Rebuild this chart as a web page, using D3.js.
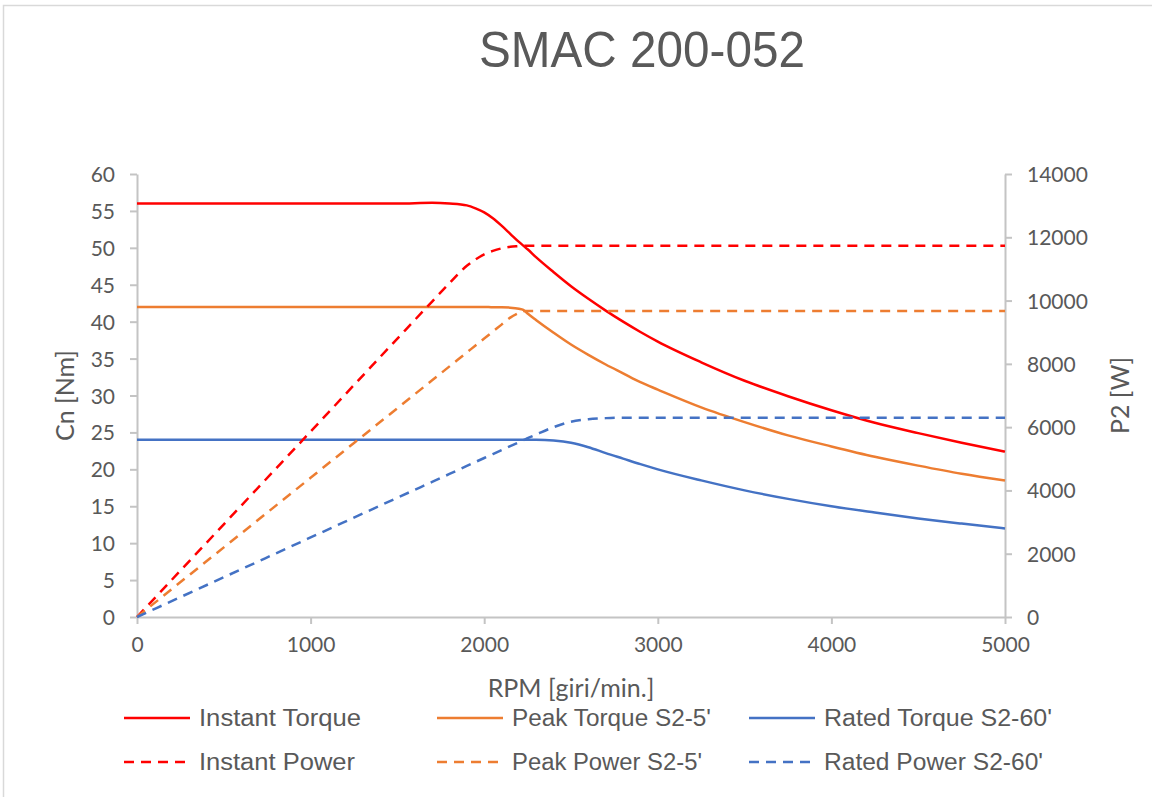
<!DOCTYPE html>
<html>
<head>
<meta charset="utf-8">
<script src="https://cdn.jsdelivr.net/npm/d3@7"></script>
<style>
	body { margin: 0; background: #fff; }
	.axis text { font-family: Lato, 'Open Sans', sans-serif; font-size: 21px; fill: #595959; }
	.axis path, .axis line { stroke: #c4c4c4; stroke-width: 2; }
	.axis-title { font-family: Lato, 'Open Sans', sans-serif; font-size: 25px; fill: #595959; }
	.legend text { font-family: 'Liberation Sans Narrow', 'Liberation Sans', sans-serif; font-size: 23px; fill: #595959; }
</style>
</head>
<body>
<div id="graphic"></div>
<script>
// rpm sample points shared by every curve
var RPM = [0, 500, 1000, 1500, 1700, 1800, 1900, 1950, 2000, 2050, 2100, 2150, 2200, 2225, 2250, 2300, 2400, 2500, 2600, 2700, 2800, 2900, 3000, 3250, 3500, 3750, 4000, 4250, 4500, 4750, 5000];

// torque [Nm], left axis
var INSTANT_TORQUE = [56, 56, 56, 56, 56.1, 56.0, 55.75, 55.35, 54.8, 54.0, 53.0, 51.9, 50.8, 50.3, 49.8, 48.7, 46.7, 44.8, 43.1, 41.5, 40.0, 38.6, 37.3, 34.5, 32.0, 29.9, 28.0, 26.3, 24.9, 23.6, 22.4];
var PEAK_TORQUE = [42, 42, 42, 42, 42, 42, 42, 42, 42, 41.95, 41.95, 41.9, 41.75, 41.6, 41.1, 40.2, 38.5, 36.9, 35.5, 34.2, 33.0, 31.8, 30.8, 28.4, 26.4, 24.6, 23.1, 21.7, 20.5, 19.4, 18.5];
var RATED_TORQUE = [24, 24, 24, 24, 24, 24, 24, 24, 24, 24, 24, 24, 24, 24, 24, 24, 23.9, 23.6, 23.0, 22.2, 21.45, 20.7, 20.0, 18.5, 17.15, 16.0, 15.0, 14.15, 13.35, 12.65, 12.0];

// power [W], right axis
var INSTANT_POWER = [0, 2930, 5860, 8800, 9970, 10550, 11100, 11300, 11460, 11570, 11650, 11700, 11720, 11730, 11730, 11730, 11730, 11730, 11730, 11730, 11730, 11730, 11730, 11730, 11730, 11730, 11730, 11730, 11730, 11730, 11730];
var PEAK_POWER = [0, 2200, 4400, 6600, 7480, 7920, 8360, 8580, 8800, 9020, 9240, 9460, 9610, 9670, 9670, 9670, 9670, 9670, 9670, 9670, 9670, 9670, 9670, 9670, 9670, 9670, 9670, 9670, 9670, 9670, 9670];
var RATED_POWER = [0, 1257, 2513, 3770, 4270, 4520, 4775, 4900, 5025, 5150, 5275, 5400, 5525, 5590, 5650, 5770, 6000, 6170, 6250, 6285, 6300, 6300, 6300, 6300, 6300, 6300, 6300, 6300, 6300, 6300, 6300];

var X_TICKS = [0, 1000, 2000, 3000, 4000, 5000];
var Y_TICKS = [0, 5, 10, 15, 20, 25, 30, 35, 40, 45, 50, 55, 60];
var Y2_TICKS = [0, 2000, 4000, 6000, 8000, 10000, 12000, 14000];

var SERIES = [
	{ name: 'Instant Torque', values: INSTANT_TORQUE, axis: 'left', color: '#ff0000', dashed: false, col: 0, row: 0, w: 162 },
	{ name: 'Peak Torque S2-5\'', values: PEAK_TORQUE, axis: 'left', color: '#ed7d31', dashed: false, col: 1, row: 0, w: 199 },
	{ name: 'Rated Torque S2-60\'', values: RATED_TORQUE, axis: 'left', color: '#4472c4', dashed: false, col: 2, row: 0, w: 228 },
	{ name: 'Instant Power', values: INSTANT_POWER, axis: 'right', color: '#ff0000', dashed: true, col: 0, row: 1, w: 156 },
	{ name: 'Peak Power S2-5\'', values: PEAK_POWER, axis: 'right', color: '#ed7d31', dashed: true, col: 1, row: 1, w: 190 },
	{ name: 'Rated Power S2-60\'', values: RATED_POWER, axis: 'right', color: '#4472c4', dashed: true, col: 2, row: 1, w: 219 }
];

function render() {
	var width = 1152;
	var height = 797;
	var margins = { top: 174, right: 147, bottom: 180, left: 137 };
	var chartWidth = width - margins.left - margins.right;
	var chartHeight = height - margins.top - margins.bottom;

	var svg = d3.select('#graphic').append('svg')
		.attr('width', width)
		.attr('height', height);

	// outer frame
	svg.append('rect')
		.attr('x', 3.5).attr('y', 5.5)
		.attr('width', 1160).attr('height', 820)
		.attr('fill', 'none')
		.attr('stroke', '#d9d9d9')
		.attr('stroke-width', 1.5);

	svg.append('text')
		.attr('x', 642)
		.attr('y', 67)
		.attr('text-anchor', 'middle')
		.attr('textLength', 326)
		.attr('lengthAdjust', 'spacingAndGlyphs')
		.style('font-family', "'Liberation Sans', Arial, sans-serif")
		.style('font-size', '50px')
		.style('fill', '#595959')
		.text('SMAC 200-052');

	var chart = svg.append('g')
		.attr('transform', 'translate(' + margins.left + ',' + margins.top + ')');

	var xScale = d3.scaleLinear().domain([0, 5000]).range([0, chartWidth]);
	var yScale = d3.scaleLinear().domain([0, 60]).range([chartHeight, 0]);
	var y2Scale = d3.scaleLinear().domain([0, 14000]).range([chartHeight, 0]);

	chart.append('g')
		.attr('class', 'x axis')
		.attr('transform', 'translate(0,' + chartHeight + ')')
		.call(d3.axisBottom(xScale).tickValues(X_TICKS).tickSize(7).tickSizeOuter(0).tickPadding(13).tickFormat(d3.format('d')));

	chart.append('g')
		.attr('class', 'y axis')
		.call(d3.axisLeft(yScale).tickValues(Y_TICKS).tickSize(7).tickSizeOuter(0).tickPadding(15));

	chart.append('g')
		.attr('class', 'y2 axis')
		.attr('transform', 'translate(' + chartWidth + ',0)')
		.call(d3.axisRight(y2Scale).tickValues(Y2_TICKS).tickSize(7).tickSizeOuter(0).tickPadding(15).tickFormat(d3.format('d')));

	chart.selectAll('.axis text').attr('dy', '0.36em');
	chart.selectAll('.x.axis text').attr('dy', '0.71em');

	// axis titles
	svg.append('text')
		.attr('class', 'axis-title')
		.attr('transform', 'translate(74,' + (margins.top + chartHeight / 2) + ') rotate(-90)')
		.attr('text-anchor', 'middle')
		.text('Cn [Nm]');

	svg.append('text')
		.attr('class', 'axis-title')
		.attr('transform', 'translate(1129,' + (margins.top + chartHeight / 2) + ') rotate(-90)')
		.attr('text-anchor', 'middle')
		.text('P2 [W]');

	svg.append('text')
		.attr('class', 'axis-title')
		.attr('x', margins.left + chartWidth / 2)
		.attr('y', 697)
		.attr('text-anchor', 'middle')
		.text('RPM [giri/min.]');

	// curves
	var lines = chart.append('g').attr('class', 'lines');
	SERIES.forEach(function(s) {
		var yS = s.axis === 'left' ? yScale : y2Scale;
		var line = d3.line()
			.curve(d3.curveMonotoneX)
			.x(function(d, i) { return xScale(RPM[i]); })
			.y(function(d) { return yS(d); });
		lines.append('path')
			.datum(s.values)
			.attr('d', line)
			.attr('fill', 'none')
			.attr('stroke', s.color)
			.attr('stroke-width', 2.5)
			.attr('stroke-dasharray', s.dashed ? '10,7' : null);
	});

	// legend
	var colX = [124, 437, 749];
	var rowY = [718, 762];
	var legend = svg.append('g').attr('class', 'legend');
	SERIES.forEach(function(s) {
		var g = legend.append('g')
			.attr('transform', 'translate(' + colX[s.col] + ',' + rowY[s.row] + ')');
		g.append('line')
			.attr('x1', 0).attr('x2', 66)
			.attr('y1', 0).attr('y2', 0)
			.attr('stroke', s.color)
			.attr('stroke-width', 2.5)
			.attr('stroke-dasharray', s.dashed ? '10,7' : null);
		g.append('text')
			.attr('x', 75)
			.attr('y', 0)
			.attr('dy', '0.35em')
			.attr('textLength', s.w)
			.attr('lengthAdjust', 'spacingAndGlyphs')
			.text(s.name);
	});
}

document.addEventListener('DOMContentLoaded', render);
</script>
</body>
</html>
